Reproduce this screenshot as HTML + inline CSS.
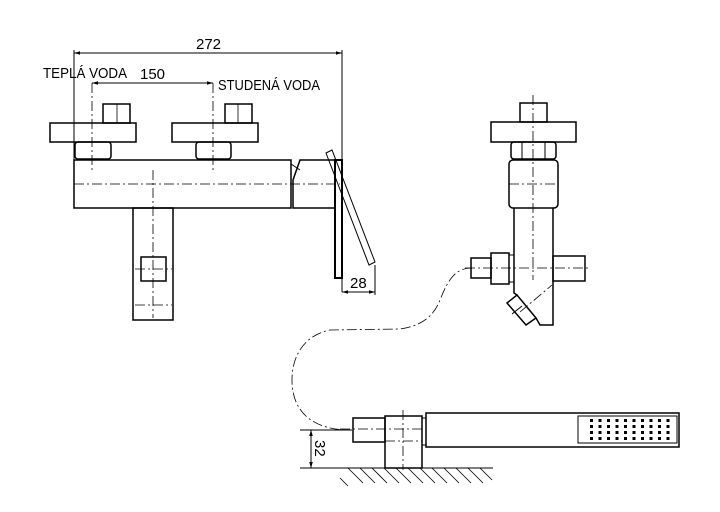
<!DOCTYPE html>
<html><head><meta charset="utf-8"><style>
html,body{margin:0;padding:0;background:#fff;}
svg{display:block;}
text{font-family:"Liberation Sans",sans-serif;fill:#000;}
</style></head><body>
<svg width="720" height="512" viewBox="0 0 720 512" xmlns="http://www.w3.org/2000/svg">
<defs>
<marker id="a" viewBox="0 0 10 10" refX="10" refY="5" markerWidth="8" markerHeight="6" orient="auto-start-reverse"><path d="M0,2 L10,5 L0,8 z" fill="#000"/></marker>
</defs>
<g fill="none" stroke="#000">
<g stroke-width="1">
<line x1="74" y1="53" x2="342" y2="53" marker-start="url(#a)" marker-end="url(#a)"/>
<line x1="74" y1="50" x2="74" y2="160"/>
<line x1="342" y1="50" x2="342" y2="292"/>
<line x1="92" y1="83" x2="213" y2="83" marker-start="url(#a)" marker-end="url(#a)"/>
<line x1="342" y1="292" x2="375" y2="292" marker-start="url(#a)" marker-end="url(#a)"/>
<line x1="375" y1="265" x2="375" y2="295"/>
<line x1="311" y1="430" x2="311" y2="468" marker-start="url(#a)" marker-end="url(#a)"/>
<line x1="300" y1="430" x2="352" y2="430"/>
<line x1="300" y1="468" x2="342" y2="468"/>
</g>
<g stroke-width="0.8" stroke-dasharray="10,3,2,3">
<line x1="92" y1="83" x2="92" y2="173"/>
<line x1="213" y1="83" x2="213" y2="173"/>
<line x1="74" y1="184" x2="340" y2="184"/>
<line x1="153" y1="170" x2="153" y2="318"/>
<line x1="135" y1="269" x2="172" y2="269"/>
<line x1="135" y1="305" x2="172" y2="305"/>
<line x1="533" y1="95" x2="533" y2="280"/>
<line x1="509" y1="184" x2="558" y2="184"/>
<line x1="465" y1="268" x2="590" y2="268"/>
<line x1="520" y1="312" x2="552" y2="285"/>
<line x1="340" y1="429" x2="425" y2="429"/>
<line x1="403" y1="410" x2="403" y2="470"/>
<line x1="385" y1="441" x2="422" y2="441"/>
<path d="M472,268 C455,268 448,280 440,300 C433,318 420,326 400,329 L330,330 C305,335 292,355 292,380 C292,410 310,428 345,430"/>
</g>
<g stroke-width="1.5">
<rect x="103" y="104" width="27" height="19"/><line x1="117" y1="104" x2="117" y2="123" stroke-width="0.8"/>
<rect x="50" y="123" width="86" height="19"/>
<rect x="75" y="142" width="36" height="17" rx="3"/>
<rect x="225" y="104" width="27" height="19"/><line x1="238" y1="104" x2="238" y2="123" stroke-width="0.8"/>
<rect x="172" y="123" width="86" height="19"/>
<rect x="196" y="142" width="35" height="17" rx="3"/>
<rect x="74" y="160" width="217" height="48"/>
<path d="M293,208 L293,180 L300,160 L335,160 L335,208 Z"/>
<path d="M291,164 L300,170" stroke-width="1"/>
<rect x="335" y="160" width="7" height="118" stroke-width="2"/>
<path d="M326,153 L332,150 L375,262 L369,265 Z" stroke-width="1"/>
<rect x="133" y="208" width="40" height="112"/>
<rect x="141" y="257" width="25" height="24"/>
</g>
<g stroke-width="1.5">
<rect x="520" y="103" width="27" height="19"/>
<rect x="491" y="122" width="85" height="20"/>
<rect x="511" y="142" width="45" height="17" rx="3"/>
<line x1="522" y1="142" x2="522" y2="159" stroke-width="1"/><line x1="545" y1="142" x2="545" y2="159" stroke-width="1"/>
<rect x="509" y="160" width="49" height="48" rx="4"/>
<path d="M514,208 L514,293 L517,295 M536,318 L540,325 L553,325 L553,208"/>
<path d="M507,303 L517,295 L536,318 L526,325 Z"/>
<line x1="512" y1="314" x2="522" y2="306" stroke-width="1"/>
<rect x="471" y="258" width="20" height="20"/>
<rect x="491" y="253" width="18" height="31"/>
<rect x="509" y="255" width="5" height="27" stroke-width="1"/>
<rect x="553" y="256" width="32" height="25"/>
</g>
<g stroke-width="1.5">
<rect x="353" y="418" width="32" height="24"/>
<rect x="385" y="416" width="37" height="52"/>
<rect x="422" y="418" width="4" height="27" stroke-width="1"/>
<rect x="426" y="413" width="253" height="34"/>
<rect x="578" y="416" width="99" height="27" stroke-width="1"/>
<line x1="342" y1="468" x2="493" y2="468" stroke-width="1"/>
</g>
<g stroke-width="0.8">
<path d="M340,478 l8,8 M348,468 l15,15 M360,468 l15,15 M372,468 l15,15 M384,468 l15,15 M396,468 l15,15 M408,468 l15,15 M420,468 l15,15 M432,468 l15,15 M444,468 l15,15 M456,468 l15,15 M468,468 l15,15 M480,468 l12,12"/>
</g>
</g>
<g fill="#000">
<g id="row">
<rect x="590" y="419" width="3" height="3"/><rect x="598.5" y="419" width="3" height="3"/><rect x="607" y="419" width="3" height="3"/><rect x="615.5" y="419" width="3" height="3"/><rect x="624" y="419" width="3" height="3"/><rect x="632.5" y="419" width="3" height="3"/><rect x="641" y="419" width="3" height="3"/><rect x="649.5" y="419" width="3" height="3"/><rect x="658" y="419" width="3" height="3"/><rect x="666.5" y="419" width="3" height="3"/>
</g>
<use href="#row" y="6"/><use href="#row" y="12"/><use href="#row" y="18"/>
</g>
<text x="196" y="49" font-size="15">272</text>
<text x="43" y="78" font-size="15" textLength="84" lengthAdjust="spacingAndGlyphs">TEPLÁ  VODA</text>
<text x="140" y="79" font-size="15">150</text>
<text x="218" y="90" font-size="15" textLength="102" lengthAdjust="spacingAndGlyphs">STUDENÁ  VODA</text>
<text x="350" y="288" font-size="15">28</text>
<text x="0" y="0" font-size="15" transform="translate(315,440) rotate(90)">32</text>
</svg>
</body></html>
